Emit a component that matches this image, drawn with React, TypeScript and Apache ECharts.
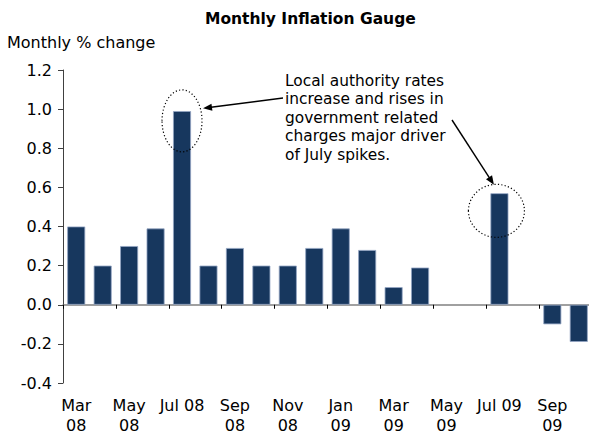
import React, { useEffect, useRef } from "react";
import * as echarts from "echarts";

const categories = [
  "Mar 08", "Apr 08", "May 08", "Jun 08", "Jul 08", "Aug 08", "Sep 08", "Oct 08",
  "Nov 08", "Dec 08", "Jan 09", "Feb 09", "Mar 09", "Apr 09", "May 09", "Jun 09",
  "Jul 09", "Aug 09", "Sep 09", "Oct 09",
];
const values: (number | null)[] = [
  0.40, 0.20, 0.30, 0.39, 0.99, 0.20, 0.29, 0.20,
  0.20, 0.29, 0.39, 0.28, 0.09, 0.19, null, null,
  0.57, null, -0.10, -0.19,
];
const yMin = -0.4;
const yMax = 1.2;
const yInterval = 0.2;

const titleText = "Monthly Inflation Gauge";
const yAxisTitle = "Monthly % change";
const noteLines = [
  "Local authority rates",
  "increase and rises in",
  "government related",
  "charges major driver",
  "of July spikes.",
];
// highlighted points: [category index, value at ellipse centre]
const highlights: [number, number][] = [
  [4, 0.94],
  [16, 0.48],
];

const FONT = "'DejaVu Sans', Verdana, sans-serif";

function arrowHead(tip: number[], from: number[], len: number, half: number) {
  const dx = tip[0] - from[0];
  const dy = tip[1] - from[1];
  const d = Math.sqrt(dx * dx + dy * dy);
  const ux = dx / d;
  const uy = dy / d;
  const bx = tip[0] - ux * len;
  const by = tip[1] - uy * len;
  return [
    [tip[0], tip[1]],
    [bx - uy * half, by + ux * half],
    [bx + uy * half, by - ux * half],
  ];
}

export default function App() {
  const ref = useRef<HTMLDivElement>(null);

  useEffect(() => {
    if (!ref.current) return;
    const chart = echarts.init(ref.current, undefined, { renderer: "svg" });
    const option: any = {
      animation: false,
      grid: {
        left: 63,
        top: 70,
        width: 529,
        height: 313,
        containLabel: false,
        outerBoundsMode: "none",
      },
      xAxis: [
        {
          type: "category",
          data: categories,
          position: "bottom",
          boundaryGap: true,
          axisLine: { show: false, onZero: false },
          axisTick: { show: false },
          axisLabel: {
            interval: 1,
            margin: 13,
            fontSize: 16,
            fontFamily: FONT,
            color: "#000",
            lineHeight: 19.5,
            formatter: (v: string) => (v.startsWith("Jul") ? v : v.replace(" ", "\n")),
          },
          splitLine: { show: false },
        },
        {
          type: "category",
          data: categories,
          position: "top",
          boundaryGap: true,
          axisLine: { show: true, onZero: true, lineStyle: { color: "#808080", width: 1.5 } },
          axisTick: { show: true, inside: true, interval: 1, length: 4, lineStyle: { color: "#000", width: 1 } },
          axisLabel: { show: false },
          splitLine: { show: false },
        },
      ],
      yAxis: {
        type: "value",
        min: yMin,
        max: yMax,
        interval: yInterval,
        axisLine: { show: true, lineStyle: { color: "#404040", width: 1 } },
        axisTick: { show: true, length: 5, lineStyle: { color: "#404040", width: 1 } },
        axisLabel: {
          margin: 11,
          fontSize: 16,
          fontFamily: FONT,
          color: "#000",
          formatter: (v: number) => v.toFixed(1),
        },
        splitLine: { show: false },
      },
      series: [
        {
          type: "bar",
          xAxisIndex: 0,
          data: values,
          barWidth: "68%",
          itemStyle: { color: "#17375E", borderColor: "#93A5C3", borderWidth: 0.8 },
        },
      ],
    };
    chart.setOption(option);

    const px = (i: number, v: number) =>
      chart.convertToPixel({ xAxisIndex: 0, yAxisIndex: 0 } as any, [i, v]) as number[];
    const c1 = px(highlights[0][0], highlights[0][1]);
    const c2 = px(highlights[1][0], highlights[1][1]);
    const e1 = { cx: c1[0], cy: c1[1], rx: 20, ry: 31 };
    const e2 = { cx: c2[0] - 3, cy: c2[1], rx: 28, ry: 26.5 };

    const a1from = [283, 98];
    const a1tip = [e1.cx + e1.rx + 1, e1.cy - 12.5];
    const a2from = [452, 120];
    const a2tip = [e2.cx - 2.5, e2.cy - e2.ry + 0.5];

    const dotted = { stroke: "#000", lineWidth: 1.2, lineDash: [1.2, 2.2], fill: "none" };

    chart.setOption({
      graphic: [
        {
          type: "text",
          left: 205,
          top: 11.3,
          style: { text: titleText, font: `bold 15.5px ${FONT}`, fill: "#000", lineHeight: 16 },
        },
        {
          type: "text",
          left: 7,
          top: 34.2,
          style: { text: yAxisTitle, font: `16px ${FONT}`, fill: "#000", lineHeight: 16 },
        },
        {
          type: "text",
          left: 285,
          top: 71.4,
          style: { text: noteLines.join("\n"), font: `15.4px ${FONT}`, fill: "#000", lineHeight: 18.6 },
        },
        { type: "ellipse", shape: e1, style: dotted, z: 10 },
        { type: "ellipse", shape: e2, style: dotted, z: 10 },
        {
          type: "line",
          shape: { x1: a1from[0], y1: a1from[1], x2: a1tip[0] + 6, y2: a1tip[1] - 0.8 },
          style: { stroke: "#000", lineWidth: 1.4 },
          z: 10,
        },
        { type: "polygon", shape: { points: arrowHead(a1tip, a1from, 9, 3.6) }, style: { fill: "#000" }, z: 10 },
        {
          type: "line",
          shape: { x1: a2from[0], y1: a2from[1], x2: a2tip[0] - 3.5, y2: a2tip[1] - 5.5 },
          style: { stroke: "#000", lineWidth: 1.4 },
          z: 10,
        },
        { type: "polygon", shape: { points: arrowHead(a2tip, a2from, 9, 3.6) }, style: { fill: "#000" }, z: 10 },
      ],
    });

    return () => chart.dispose();
  }, []);

  return <div ref={ref} style={{ width: 589, height: 435, position: "absolute", left: 0, top: 0 }} />;
}
